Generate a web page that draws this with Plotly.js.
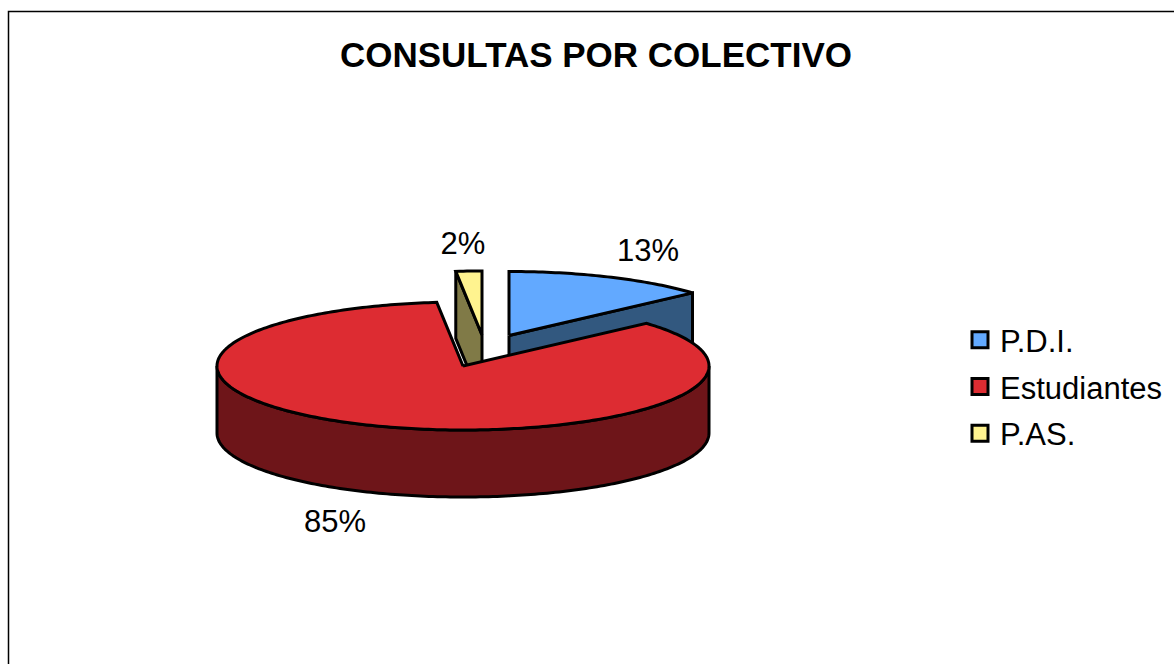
<!DOCTYPE html>
<html>
<head>
<meta charset="utf-8">
<script src="https://cdn.plot.ly/plotly-3.0.1.min.js"></script>
<style>html,body{margin:0;padding:0;background:#fff;overflow:hidden}#chart{width:1174px;height:664px}</style>
</head>
<body>
<div id="chart"></div>
<script>
// Data (labels print as 13%, 85%, 2%)
const categories = ["P.D.I.", "Estudiantes", "P.AS."];
const shares = [13.4, 84.9, 1.7];
const topColors = ["#62a9ff", "#dd2c32", "#fff38f"];
const sideColors = ["#32587f", "#6e1519", "#807a47"];
const chartTitle = "CONSULTAS POR COLECTIVO";

// Pie projection (units = axis units)
const radiusX = 246, radiusY = 64, depth = 67;
const centres = [[509, 335.5], [463, 366], [482, 335]];
const labelAnchors = [[648, 253], [335, 524], [463, 246]];
const fontFamily = "Liberation Sans, Arial, sans-serif";

function pointAt(c, deg, drop) {
  const a = deg * Math.PI / 180;
  return [c[0] + radiusX * Math.sin(a), c[1] - radiusY * Math.cos(a) + (drop || 0)];
}
function arc(c, from, to, drop) {
  const pts = [];
  const n = Math.max(2, Math.ceil(Math.abs(to - from)));
  for (let i = 0; i <= n; i++) pts.push(pointAt(c, from + (to - from) * i / n, drop));
  return pts;
}
function face(pts, fill) {
  return {
    type: "scatter", mode: "lines", fill: "toself", fillcolor: fill,
    x: pts.map(p => p[0]), y: pts.map(p => p[1]),
    line: {color: "#000", width: 3, simplify: false},
    hoverinfo: "skip", showlegend: false
  };
}

const total = shares.reduce((a, b) => a + b, 0);
const spans = [];
let running = 0;
shares.forEach(v => { const s = running; running += v / total * 360; spans.push([s, running]); });

function sideFace(i) {
  // cut face that runs from the centre to the slice's outer edge and down by the pie depth
  const c = centres[i];
  const edge = i === 0 ? spans[i][1] : spans[i][0];
  const e = pointAt(c, edge);
  return [c, e, [e[0], e[1] + depth], [c[0], c[1] + depth], c];
}
function topFace(i) {
  const c = centres[i];
  return [c].concat(arc(c, spans[i][0], spans[i][1])).concat([c]);
}
function wall(i) {
  const c = centres[i];
  const from = Math.max(spans[i][0], 90), to = Math.min(spans[i][1], 270);
  const upper = arc(c, from, to);
  const lower = arc(c, to, from, depth);
  return upper.concat(lower).concat([upper[0]]);
}

const traces = [
  face(sideFace(2), sideColors[2]),
  face(topFace(2), topColors[2]),
  face(sideFace(0), sideColors[0]),
  face(topFace(0), topColors[0]),
  face(wall(1), sideColors[1]),
  face(topFace(1), topColors[1]),
  {
    type: "scatter", mode: "text",
    x: labelAnchors.map(p => p[0]), y: labelAnchors.map(p => p[1]),
    text: shares.map(v => Math.round(v) + "%"),
    textposition: "middle center",
    textfont: {family: fontFamily, size: 31, color: "#000"},
    hoverinfo: "skip", showlegend: false
  }
];
categories.forEach((name, i) => traces.push({
  type: "scatter", mode: "markers", name: name, legendgroup: name,
  x: [null], y: [null],
  marker: {symbol: "square", size: 17, color: topColors[i], line: {color: "#000", width: 3}}
}));

const layout = {
  width: 1174, height: 664,
  margin: {l: 0, r: 0, t: 0, b: 0},
  paper_bgcolor: "#fff", plot_bgcolor: "#fff",
  title: {
    text: "<b>" + chartTitle + "</b>",
    x: 596 / 1174, xanchor: "center", y: 1 - 55 / 664, yanchor: "middle",
    font: {family: fontFamily, size: 35, color: "#000"}
  },
  xaxis: {range: [0, 1174], visible: false, fixedrange: true},
  yaxis: {range: [664, 0], visible: false, fixedrange: true},
  hovermode: false,
  legend: {
    x: 960 / 1174, xanchor: "left", y: 1 - 386.5 / 664, yanchor: "middle",
    font: {family: fontFamily, size: 31, color: "#000"},
    bgcolor: "rgba(0,0,0,0)", borderwidth: 0,
    tracegroupgap: 3.5, itemclick: false, itemdoubleclick: false
  },
  shapes: [{
    type: "path", xref: "x", yref: "y", layer: "below",
    path: "M 8.5 664 L 8.5 11.5 L 1174 11.5",
    line: {color: "#000", width: 1.5}
  }]
};
Plotly.newPlot("chart", traces, layout, {displayModeBar: false, staticPlot: true});
</script>
</body>
</html>
